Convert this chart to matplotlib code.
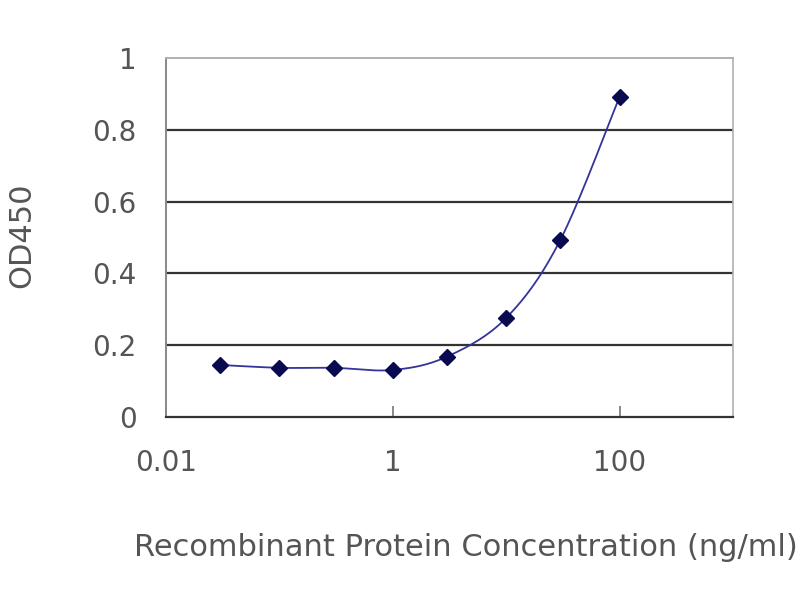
import numpy as np
import matplotlib
matplotlib.use("Agg")
import matplotlib.pyplot as plt

# Data
concentration = [0.03, 0.1, 0.3, 1, 3, 10, 30, 100]
od450 = [0.145, 0.137, 0.137, 0.131, 0.168, 0.276, 0.493, 0.892]
x_ticks = [0.01, 1, 100]
x_ticklabels = ["0.01", "1", "100"]
y_ticks = [0, 0.2, 0.4, 0.6, 0.8, 1]
y_ticklabels = ["0", "0.2", "0.4", "0.6", "0.8", "1"]

plt.rcParams['font.family'] = ['DejaVu Sans']

fig = plt.figure(figsize=(8, 6), dpi=100)
ax = fig.add_axes([166/800, 1-417/600, (733-166)/800, (417-58)/600])

ax.set_xscale('log')
ax.set_xlim(0.01, 1000)
ax.set_ylim(0, 1)

# Excel-like smoothed line (Bezier / Catmull-Rom in log-x space)
lx = np.log10(np.array(concentration, dtype=float))
yy = np.array(od450, dtype=float)
P = np.column_stack([lx, yy])
Pext = np.vstack([P[0], P, P[-1]])
t = np.linspace(0, 1, 30)[:, None]
seg = []
for i in range(1, len(Pext) - 2):
    p0, p1, p2, p3 = Pext[i-1], Pext[i], Pext[i+1], Pext[i+2]
    c1 = p1 + (p2 - p0) / 6
    c2 = p2 - (p3 - p1) / 6
    b = ((1-t)**3) * p1 + 3*((1-t)**2)*t*c1 + 3*(1-t)*t**2*c2 + t**3*p2
    seg.append(b)
curve = np.vstack(seg)
ax.plot(10**curve[:, 0], curve[:, 1], color='#34349a', lw=1.3, zorder=3)
ax.plot(concentration, od450, linestyle='none', marker='D', markersize=8.5,
        color='#0a0a50', zorder=4)

# Gridlines
for yv in y_ticks[1:-1]:
    ax.axhline(yv, color='#333333', lw=1.6, zorder=1)

ax.spines['top'].set_color('#b0b0b0')
ax.spines['right'].set_color('#b0b0b0')
ax.spines['left'].set_color('#888888')
ax.spines['bottom'].set_color('#333333')
ax.spines['bottom'].set_linewidth(1.6)
ax.spines['left'].set_linewidth(1.4)
ax.spines['top'].set_linewidth(1.4)
ax.spines['right'].set_linewidth(1.2)

ax.set_xticks(x_ticks)
ax.set_xticklabels(x_ticklabels)
ax.xaxis.set_minor_locator(matplotlib.ticker.NullLocator())
ax.set_yticks(y_ticks)
ax.set_yticklabels(y_ticklabels)

ax.tick_params(axis='x', direction='in', length=8, width=1.2, color='#777777',
               labelsize=20, labelcolor='#555555', pad=23)
ax.tick_params(axis='y', length=0, labelsize=20, labelcolor='#555555', pad=21)

fig.text(22/800, 1-235/600, "OD450", rotation=90, ha='center', va='center',
         fontsize=22, color='#555555')
fig.text(466/800, 1-548/600, "Recombinant Protein Concentration (ng/ml)",
         ha='center', va='center', fontsize=22, color='#555555')

fig.savefig("out.png", dpi=100)
